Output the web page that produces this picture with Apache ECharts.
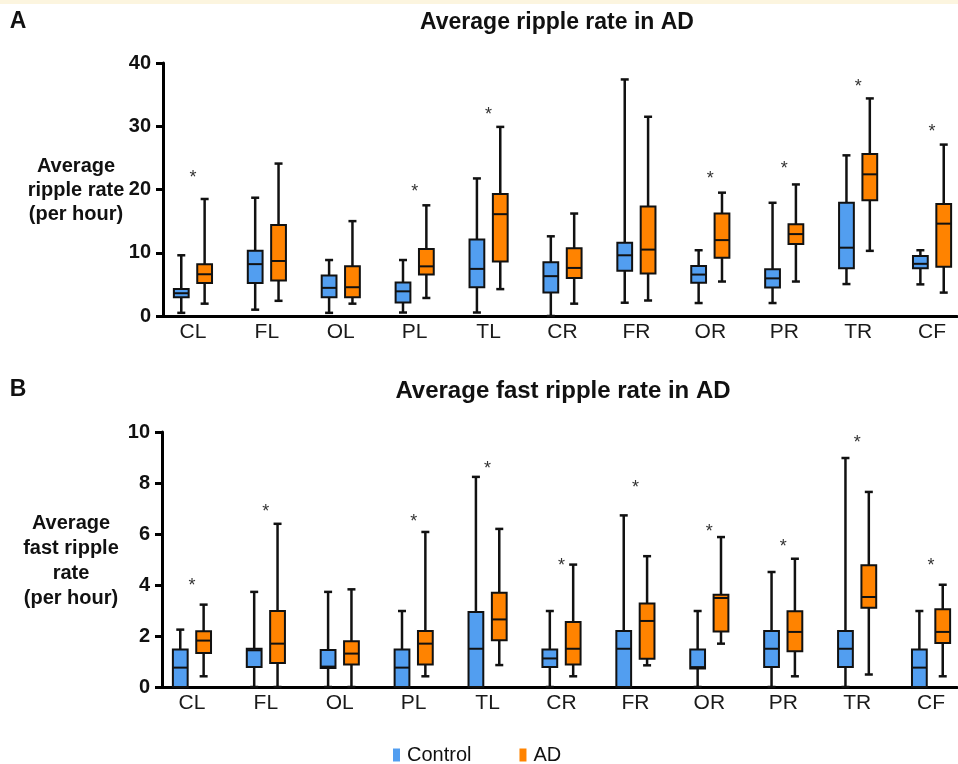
<!DOCTYPE html>
<html>
<head>
<meta charset="utf-8">
<script src="https://cdn.jsdelivr.net/npm/echarts@6/dist/echarts.min.js"></script>
<style>
  html, body { margin: 0; padding: 0; background: #fff; }
  #chart { width: 958px; height: 764px; }
</style>
</head>
<body>
<div id="chart"></div>
<script>
const regions = ['CL', 'FL', 'OL', 'PL', 'TL', 'CR', 'FR', 'OR', 'PR', 'TR', 'CF'];

// each row: [min, q1, median, q3, max]
const rippleControl = [
    [0.5, 2.95, 3.6, 4.25, 9.6],
    [1.0, 5.2, 8.2, 10.3, 18.7],
    [0.5, 2.95, 4.45, 6.4, 8.85],
    [0.55, 2.15, 3.9, 5.3, 8.85],
    [0.55, 4.55, 7.45, 12.1, 21.75],
    [0, 3.7, 6.3, 8.5, 12.6],
    [2.1, 7.15, 9.6, 11.6, 37.4],
    [2.05, 5.25, 6.55, 7.9, 10.4],
    [2.05, 4.5, 5.95, 7.4, 17.9],
    [5.05, 7.55, 10.8, 17.9, 25.4],
    [5.0, 7.55, 8.25, 9.5, 10.4]
];
const rippleAD = [
    [1.95, 5.2, 6.6, 8.2, 18.5],
    [2.4, 5.6, 8.7, 14.4, 24.1],
    [1.95, 2.95, 4.55, 7.85, 15.0],
    [2.85, 6.55, 7.85, 10.6, 17.5],
    [4.25, 8.6, 16.1, 19.3, 29.9],
    [1.95, 6.0, 7.6, 10.7, 16.2],
    [2.45, 6.7, 10.5, 17.3, 31.5],
    [5.45, 9.2, 12.0, 16.2, 19.5],
    [5.45, 11.4, 12.95, 14.5, 20.8],
    [10.3, 18.3, 22.4, 25.6, 34.4],
    [3.7, 7.8, 14.6, 17.7, 27.1]
];
const rippleStars = [22.5, null, null, 20.3, 32.4, null, null, 22.3, 23.85, 36.9, 29.65];

const fastControl = [
    [0, 0, 0.76, 1.47, 2.25],
    [0, 0.78, 1.44, 1.5, 3.73],
    [0, 0.75, 0.8, 1.45, 3.73],
    [0, 0, 0.76, 1.47, 2.98],
    [0, 0, 1.5, 2.94, 8.24],
    [0, 0.78, 1.12, 1.47, 2.98],
    [0, 0, 1.5, 2.2, 6.73],
    [0, 0.73, 0.78, 1.47, 2.98],
    [0, 0.78, 1.5, 2.2, 4.51],
    [0, 0.78, 1.5, 2.2, 8.98],
    [0, 0, 0.76, 1.47, 2.98]
];
const fastAD = [
    [0.42, 1.33, 1.82, 2.19, 3.23],
    [0, 0.94, 1.7, 2.98, 6.4],
    [0, 0.88, 1.31, 1.79, 3.83],
    [0.42, 0.88, 1.7, 2.2, 6.08],
    [0.86, 1.83, 2.65, 3.7, 6.2],
    [0.42, 0.88, 1.5, 2.55, 4.8],
    [0.85, 1.11, 2.59, 3.27, 5.13],
    [1.7, 2.18, 3.49, 3.62, 5.88],
    [0.42, 1.4, 2.16, 2.97, 5.03],
    [0.49, 3.11, 3.53, 4.77, 7.65],
    [0.42, 1.73, 2.16, 3.05, 4.01]
];
const fastStars = [4.12, 7.0, null, 6.64, 8.72, 4.9, 7.94, 6.24, 5.66, 9.74, 4.9];

const rippleAxis = [0, 40, 10];
const fastAxis = [0, 10, 2];

const BLUE = '#529ef0';
const ORANGE = '#ff8300';
const FONT = '"Liberation Sans", Arial, sans-serif';

// box + whiskers with short caps, shifted left/right of the category centre
function boxItem(shift, color) {
    return function (params, api) {
        let band = api.size([1, 0])[0];
        let i = api.value(0);
        let x = api.coord([i, 0])[0] + shift * band;
        let p = [1, 2, 3, 4, 5].map(k => api.coord([i, api.value(k)])[1]);
        let half = band * 0.1;
        let cap = 4;
        let line = (x1, y1, x2, y2, w) => ({
            type: 'line',
            shape: {x1, y1, x2, y2},
            style: {stroke: '#111', lineWidth: w}
        });
        return {
            type: 'group',
            children: [
                line(x, p[0], x, p[1], 2.5),
                line(x, p[3], x, p[4], 2.5),
                line(x - cap, p[0], x + cap, p[0], 2.5),
                line(x - cap, p[4], x + cap, p[4], 2.5),
                {
                    type: 'rect',
                    shape: {x: x - half, y: p[3], width: half * 2, height: p[1] - p[3]},
                    style: {fill: color, stroke: '#111', lineWidth: 2}
                },
                line(x - half, p[2], x + half, p[2], 2)
            ]
        };
    };
}

function starItem(params, api) {
    let pt = api.coord([api.value(0), api.value(1)]);
    return {
        type: 'text',
        x: pt[0],
        y: pt[1] + 4,
        style: {
            text: '*', fill: '#333', font: '18px ' + FONT,
            align: 'center', verticalAlign: 'middle',
            textAlign: 'center', textVerticalAlign: 'middle'
        }
    };
}

function panel(idx, gridTop, height, left, axis) {
    let [min, max, step] = axis;
    let g = idx * 2;
    return {
        grid: [
            {left: left, right: 1, top: gridTop, height: height, outerBoundsMode: 'none'},
            {left: left - 7, width: 813, top: gridTop, height: height, outerBoundsMode: 'none'}
        ],
        xAxis: [
            {
                gridIndex: g, type: 'value', min: 0, max: 1,
                axisLine: {show: true, lineStyle: {color: '#000', width: 3}},
                axisTick: {show: false}, axisLabel: {show: false}, splitLine: {show: false}
            },
            {
                gridIndex: g + 1, type: 'category', data: regions,
                axisLine: {show: false}, axisTick: {show: false},
                axisLabel: {fontSize: 21, color: '#1a1a1a', margin: 6, fontFamily: FONT}
            }
        ],
        yAxis: [
            {
                gridIndex: g, type: 'value', min: min, max: max, interval: step,
                axisLine: {show: true, lineStyle: {color: '#000', width: 3}},
                axisTick: {show: true, length: 7, lineStyle: {color: '#000', width: 3}},
                axisLabel: {fontSize: 20, fontWeight: 'bold', color: '#111', margin: 12, fontFamily: FONT},
                splitLine: {show: false}
            },
            {gridIndex: g + 1, type: 'value', min: min, max: max, show: false}
        ]
    };
}

function boxSeries(idx, name, rows, shift, color) {
    return {
        name: name,
        type: 'custom',
        xAxisIndex: idx * 2 + 1,
        yAxisIndex: idx * 2 + 1,
        itemStyle: {color: color},
        encode: {x: 0, y: [1, 2, 3, 4, 5]},
        data: rows.map((r, i) => [i].concat(r)),
        renderItem: boxItem(shift, color),
        z: 3
    };
}

function starSeries(idx, stars) {
    return {
        name: 'sig' + idx,
        type: 'custom',
        xAxisIndex: idx * 2 + 1,
        yAxisIndex: idx * 2 + 1,
        encode: {x: 0, y: 1},
        data: stars.map((v, i) => v == null ? null : [i, v]).filter(Boolean),
        renderItem: starItem,
        z: 4
    };
}

const topPanel = panel(0, 63, 253, 163, rippleAxis);
const bottomPanel = panel(1, 432, 255, 162, fastAxis);

const label = (text, x, y, size, extra) => ({
    type: 'text', x: x, y: y, z: 10,
    style: Object.assign({
        text: text, fill: '#111', font: 'bold ' + size + 'px ' + FONT,
        textAlign: 'center', textVerticalAlign: 'middle'
    }, extra || {})
});

const option = {
    backgroundColor: '#fff',
    animation: false,
    grid: topPanel.grid.concat(bottomPanel.grid),
    xAxis: topPanel.xAxis.concat(bottomPanel.xAxis),
    yAxis: topPanel.yAxis.concat(bottomPanel.yAxis),
    legend: {
        data: ['Control', 'AD'],
        left: 388, top: 740,
        icon: 'rect', itemWidth: 7, itemHeight: 13, itemGap: 48,
        textStyle: {fontSize: 20, color: '#111', fontFamily: FONT, padding: [0, 0, 0, 2]}
    },
    graphic: [
        {type: 'rect', shape: {x: 0, y: 0, width: 958, height: 4}, style: {fill: '#fcf5df'}},
        label('A', 18, 22, 23),
        label('B', 18, 390, 23),
        label('Average ripple rate in AD', 557, 23, 23),
        label('Average fast ripple rate in AD', 563, 391, 24),
        label('Average\nripple rate\n(per hour)', 76, 190, 20, {lineHeight: 24}),
        label('Average\nfast ripple\nrate\n(per hour)', 71, 561, 20, {lineHeight: 25})
    ],
    series: [
        boxSeries(0, 'Control', rippleControl, -0.158, BLUE),
        boxSeries(0, 'AD', rippleAD, 0.158, ORANGE),
        starSeries(0, rippleStars),
        boxSeries(1, 'Control', fastControl, -0.158, BLUE),
        boxSeries(1, 'AD', fastAD, 0.158, ORANGE),
        starSeries(1, fastStars)
    ]
};

const chart = echarts.init(document.getElementById('chart'));
chart.setOption(option);
</script>
</body>
</html>
